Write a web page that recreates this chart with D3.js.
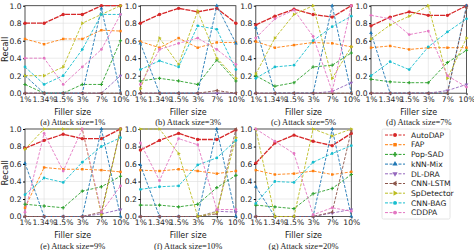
<!DOCTYPE html>
<html>
<head>
<meta charset="utf-8">
<script src="https://cdn.jsdelivr.net/npm/d3@7"></script>
<style>
body { margin: 0; background: #fff; }
text { font-family: "DejaVu Sans", sans-serif; fill: #222; }
.caption { font-family: "Liberation Serif", serif; }
.grid line { stroke: #ddd; stroke-width: 0.6; }
</style>
</head>
<body>
<script>
// filler sizes on the x axis
var fillerSizes = ["1%", "1.34%", "1.5%", "3%", "7%", "10%"];
var attackSizes = ["1%", "3%", "5%", "7%", "9%", "10%", "20%"];
var yTicks = [0, 0.2, 0.4, 0.6, 0.8, 1.0];
var methods = ["AutoDAP", "FAP", "Pop-SAD", "kNN-Mix", "DL-DRA", "CNN-LSTM", "SpDetector", "CNN-BAG", "CDDPA"];

// one row per panel (a)..(g)
var autoDAP = [
    [0.80, 0.80, 0.90, 0.90, 1.00, 1.00],
    [0.80, 0.90, 0.97, 0.93, 0.97, 0.80],
    [0.78, 0.88, 0.96, 0.90, 0.87, 1.00],
    [0.77, 0.87, 0.93, 0.89, 0.89, 1.00],
    [0.78, 0.87, 0.94, 0.89, 0.89, 1.00],
    [0.76, 0.87, 0.95, 0.88, 0.88, 0.99],
    [0.61, 0.84, 0.93, 0.86, 0.81, 0.95]];
var fap = [
    [0.62, 0.56, 0.62, 0.62, 0.72, 0.71],
    [0.59, 0.52, 0.63, 0.52, 0.58, 0.58],
    [0.59, 0.52, 0.55, 0.58, 0.57, 0.53],
    [0.52, 0.54, 0.50, 0.52, 0.52, 0.52],
    [0.10, 0.56, 0.54, 0.54, 0.53, 0.51],
    [0.53, 0.52, 0.54, 0.52, 0.49, 0.52],
    [0.53, 0.48, 0.49, 0.52, 0.48, 0.51]];
var popSAD = [
    [0.10, 0.00, 0.00, 0.10, 0.10, 0.60],
    [0.14, 0.17, 0.14, 0.10, 0.38, 0.14],
    [0.20, 0.08, 0.12, 0.30, 0.32, 0.46],
    [0.16, 0.13, 0.12, 0.12, 0.35, 0.49],
    [0.14, 0.12, 0.10, 0.29, 0.34, 0.46],
    [0.13, 0.13, 0.11, 0.14, 0.33, 0.47],
    [0.13, 0.11, 0.09, 0.26, 0.32, 0.48]];
var knnMix = [
    [0.20, 0.00, 0.00, 0.00, 0.97, 0.00],
    [0.57, 0.00, 0.00, 0.00, 1.00, 0.57],
    [0.75, 0.00, 0.00, 0.00, 1.00, 0.00],
    [0.69, 0.00, 0.00, 0.00, 0.00, 1.00],
    [0.61, 0.00, 0.00, 0.00, 1.00, 0.00],
    [0.59, 0.00, 0.00, 0.00, 1.00, 0.00],
    [0.34, 0.00, 0.00, 0.00, 1.00, 0.00]];
var dlDRA = [
    [0.00, 0.00, 0.00, 0.00, 0.00, 0.20],
    [0.00, 0.00, 0.00, 0.00, 0.00, 0.00],
    [0.00, 0.00, 0.00, 0.00, 0.02, 0.12],
    [0.00, 0.00, 0.00, 0.00, 0.03, 0.10],
    [0.00, 0.00, 0.00, 0.00, 0.03, 0.08],
    [0.00, 0.00, 0.00, 0.00, 0.06, 0.05],
    [0.00, 0.00, 0.00, 0.00, 0.04, 0.08]];
var cnnLSTM = [
    [0.00, 0.00, 0.00, 0.00, 0.00, 0.00],
    [0.00, 0.00, 0.00, 0.00, 0.03, 0.00],
    [0.00, 0.00, 0.00, 0.00, 0.00, 0.00],
    [0.00, 0.00, 0.00, 0.00, 0.00, 0.98],
    [0.00, 0.00, 0.00, 0.00, 0.05, 1.00],
    [0.00, 0.00, 0.00, 0.00, 0.03, 1.00],
    [0.00, 0.00, 0.00, 0.00, 0.05, 0.98]];
var spDetector = [
    [0.20, 0.20, 0.30, 0.80, 0.90, 1.00],
    [0.05, 0.63, 0.33, 0.94, 0.40, 0.17],
    [0.22, 0.63, 0.90, 1.00, 0.17, 0.53],
    [0.62, 0.78, 0.88, 1.00, 0.17, 0.63],
    [0.77, 1.00, 1.00, 1.00, 0.02, 1.00],
    [1.00, 1.00, 0.72, 0.00, 0.05, 0.90],
    [1.00, 0.00, 0.00, 1.00, 0.92, 1.00]];
var cnnBAG = [
    [0.30, 0.10, 0.20, 0.50, 0.90, 0.90],
    [0.27, 0.37, 0.30, 0.77, 0.73, 0.27],
    [0.17, 0.30, 0.32, 0.60, 0.76, 0.88],
    [0.20, 0.36, 0.27, 0.53, 0.70, 0.85],
    [0.25, 0.44, 0.39, 0.62, 0.80, 0.90],
    [0.31, 0.34, 0.35, 0.59, 0.67, 0.87],
    [0.15, 0.40, 0.39, 0.62, 0.72, 0.81]];
var cddpa = [
    [0.40, 0.40, 0.10, 0.30, 0.50, 0.90],
    [0.10, 0.50, 0.57, 0.63, 0.50, 0.33],
    [0.63, 0.85, 0.95, 0.65, 0.02, 1.00],
    [0.89, 0.85, 0.67, 0.71, 0.20, 0.07],
    [0.05, 0.95, 0.52, 1.00, 0.05, 0.35],
    [0.84, 0.41, 0.89, 0.82, 0.08, 0.08],
    [1.00, 0.86, 0.72, 0.02, 0.10, 0.06]];

var seriesData = [autoDAP, fap, popSAD, knnMix, dlDRA, cnnLSTM, spDetector, cnnBAG, cddpa];
var colors = ["#d62728", "#ff7f0e", "#2ca02c", "#1f77b4", "#9467bd", "#8c564b", "#bcbd22", "#17becf", "#e377c2"];
var symbols = [d3.symbolCircle, d3.symbolSquare, d3.symbolCross, d3.symbolTriangle, d3.symbolTriangle,
    d3.symbolTriangle, d3.symbolTriangle, d3.symbolCircle, d3.symbolCircle];
var rotations = [0, 0, 0, 0, 180, 270, 90, 0, 0];

var width = 474, height = 250;
var svg = d3.select("body").append("svg")
    .attr("width", width)
    .attr("height", height);

var plotW = 95.5, plotH = 87.5;
var colX = [25, 140.4, 255.8, 371];
var rowY = [5.7, 129];

function drawPanel(p) {
    var col = p % 4, row = Math.floor(p / 4);
    var g = svg.append("g")
        .attr("transform", "translate(" + colX[col] + "," + rowY[row] + ")");

    var x = d3.scalePoint().domain(fillerSizes).range([0, plotW]);
    var y = d3.scaleLinear().domain([0, 1]).range([plotH, 0]);

    // grid
    var grid = g.append("g").attr("class", "grid");
    grid.selectAll(".vg").data(fillerSizes).enter().append("line")
        .attr("x1", function(d){ return x(d); }).attr("x2", function(d){ return x(d); })
        .attr("y1", 0).attr("y2", plotH);
    grid.selectAll(".hg").data(yTicks).enter().append("line")
        .attr("x1", 0).attr("x2", plotW)
        .attr("y1", function(d){ return y(d); }).attr("y2", function(d){ return y(d); });

    // frame
    g.append("rect")
        .attr("width", plotW).attr("height", plotH)
        .attr("fill", "none").attr("stroke", "#333").attr("stroke-width", 0.8);

    // axes
    var xAxis = g.append("g")
        .attr("transform", "translate(0," + plotH + ")")
        .call(d3.axisBottom(x).tickSize(2).tickPadding(1));
    xAxis.select(".domain").remove();
    xAxis.selectAll("text").style("font-size", "7.6px").style("font-family", "DejaVu Sans");

    var yAxis = g.append("g")
        .call(d3.axisLeft(y).tickValues(yTicks).tickFormat(d3.format(".1f")).tickSize(2).tickPadding(1.5));
    yAxis.select(".domain").remove();
    yAxis.selectAll("text").style("font-size", "7.6px").style("font-family", "DejaVu Sans");

    // lines
    var line = d3.line()
        .x(function(d, i){ return x(fillerSizes[i]); })
        .y(function(d){ return y(d); });

    seriesData.forEach(function(s, k) {
        var vals = s[p];
        g.append("path")
            .datum(vals)
            .attr("d", line)
            .attr("fill", "none")
            .attr("stroke", colors[k])
            .attr("stroke-width", k == 0 ? 1.3 : 0.9)
            .attr("stroke-dasharray", k == 0 ? "5,1" : "3,1.5");
        g.selectAll(".m" + k)
            .data(vals)
            .enter()
            .append("path")
            .attr("d", d3.symbol().type(symbols[k]).size(k == 0 ? 9 : 6))
            .attr("transform", function(d, i){
                return "translate(" + x(fillerSizes[i]) + "," + y(d) + ") rotate(" + rotations[k] + ")";
            })
            .attr("fill", colors[k]);
    });

    g.append("text")
        .attr("x", plotW / 2)
        .attr("y", plotH + 21.5)
        .attr("text-anchor", "middle")
        .style("font-size", "8px")
        .text("Filler size");

    g.append("text")
        .attr("class", "caption")
        .attr("x", plotW / 2)
        .attr("y", plotH + 32)
        .attr("text-anchor", "middle")
        .style("font-size", "8.5px")
        .text("(" + "abcdefg"[p] + ") Attack size=" + attackSizes[p]);

    if (col == 0) {
        g.append("text")
            .attr("transform", "translate(-17," + plotH / 2 + ") rotate(-90)")
            .attr("text-anchor", "middle")
            .style("font-size", "8.5px")
            .text("Recall");
    }
}

for (var p = 0; p < 7; p++) drawPanel(p);

// legend
var legend = svg.append("g").attr("transform", "translate(382,129)");
legend.append("rect")
    .attr("width", 68).attr("height", 90)
    .attr("fill", "#fff").attr("stroke", "#ddd").attr("stroke-width", 0.8).attr("rx", 1.5);

methods.forEach(function(m, k) {
    var yy = 6 + k * 9.7;
    legend.append("line")
        .attr("x1", 3).attr("x2", 23).attr("y1", yy).attr("y2", yy)
        .attr("stroke", colors[k]).attr("stroke-width", 1)
        .attr("stroke-dasharray", "3,1.5");
    legend.append("path")
        .attr("d", d3.symbol().type(symbols[k]).size(12))
        .attr("transform", "translate(13," + yy + ") rotate(" + rotations[k] + ")")
        .attr("fill", colors[k]);
    legend.append("text")
        .attr("x", 29).attr("y", yy + 2.7)
        .style("font-size", "7.6px")
        .text(m);
});
</script>
</body>
</html>
